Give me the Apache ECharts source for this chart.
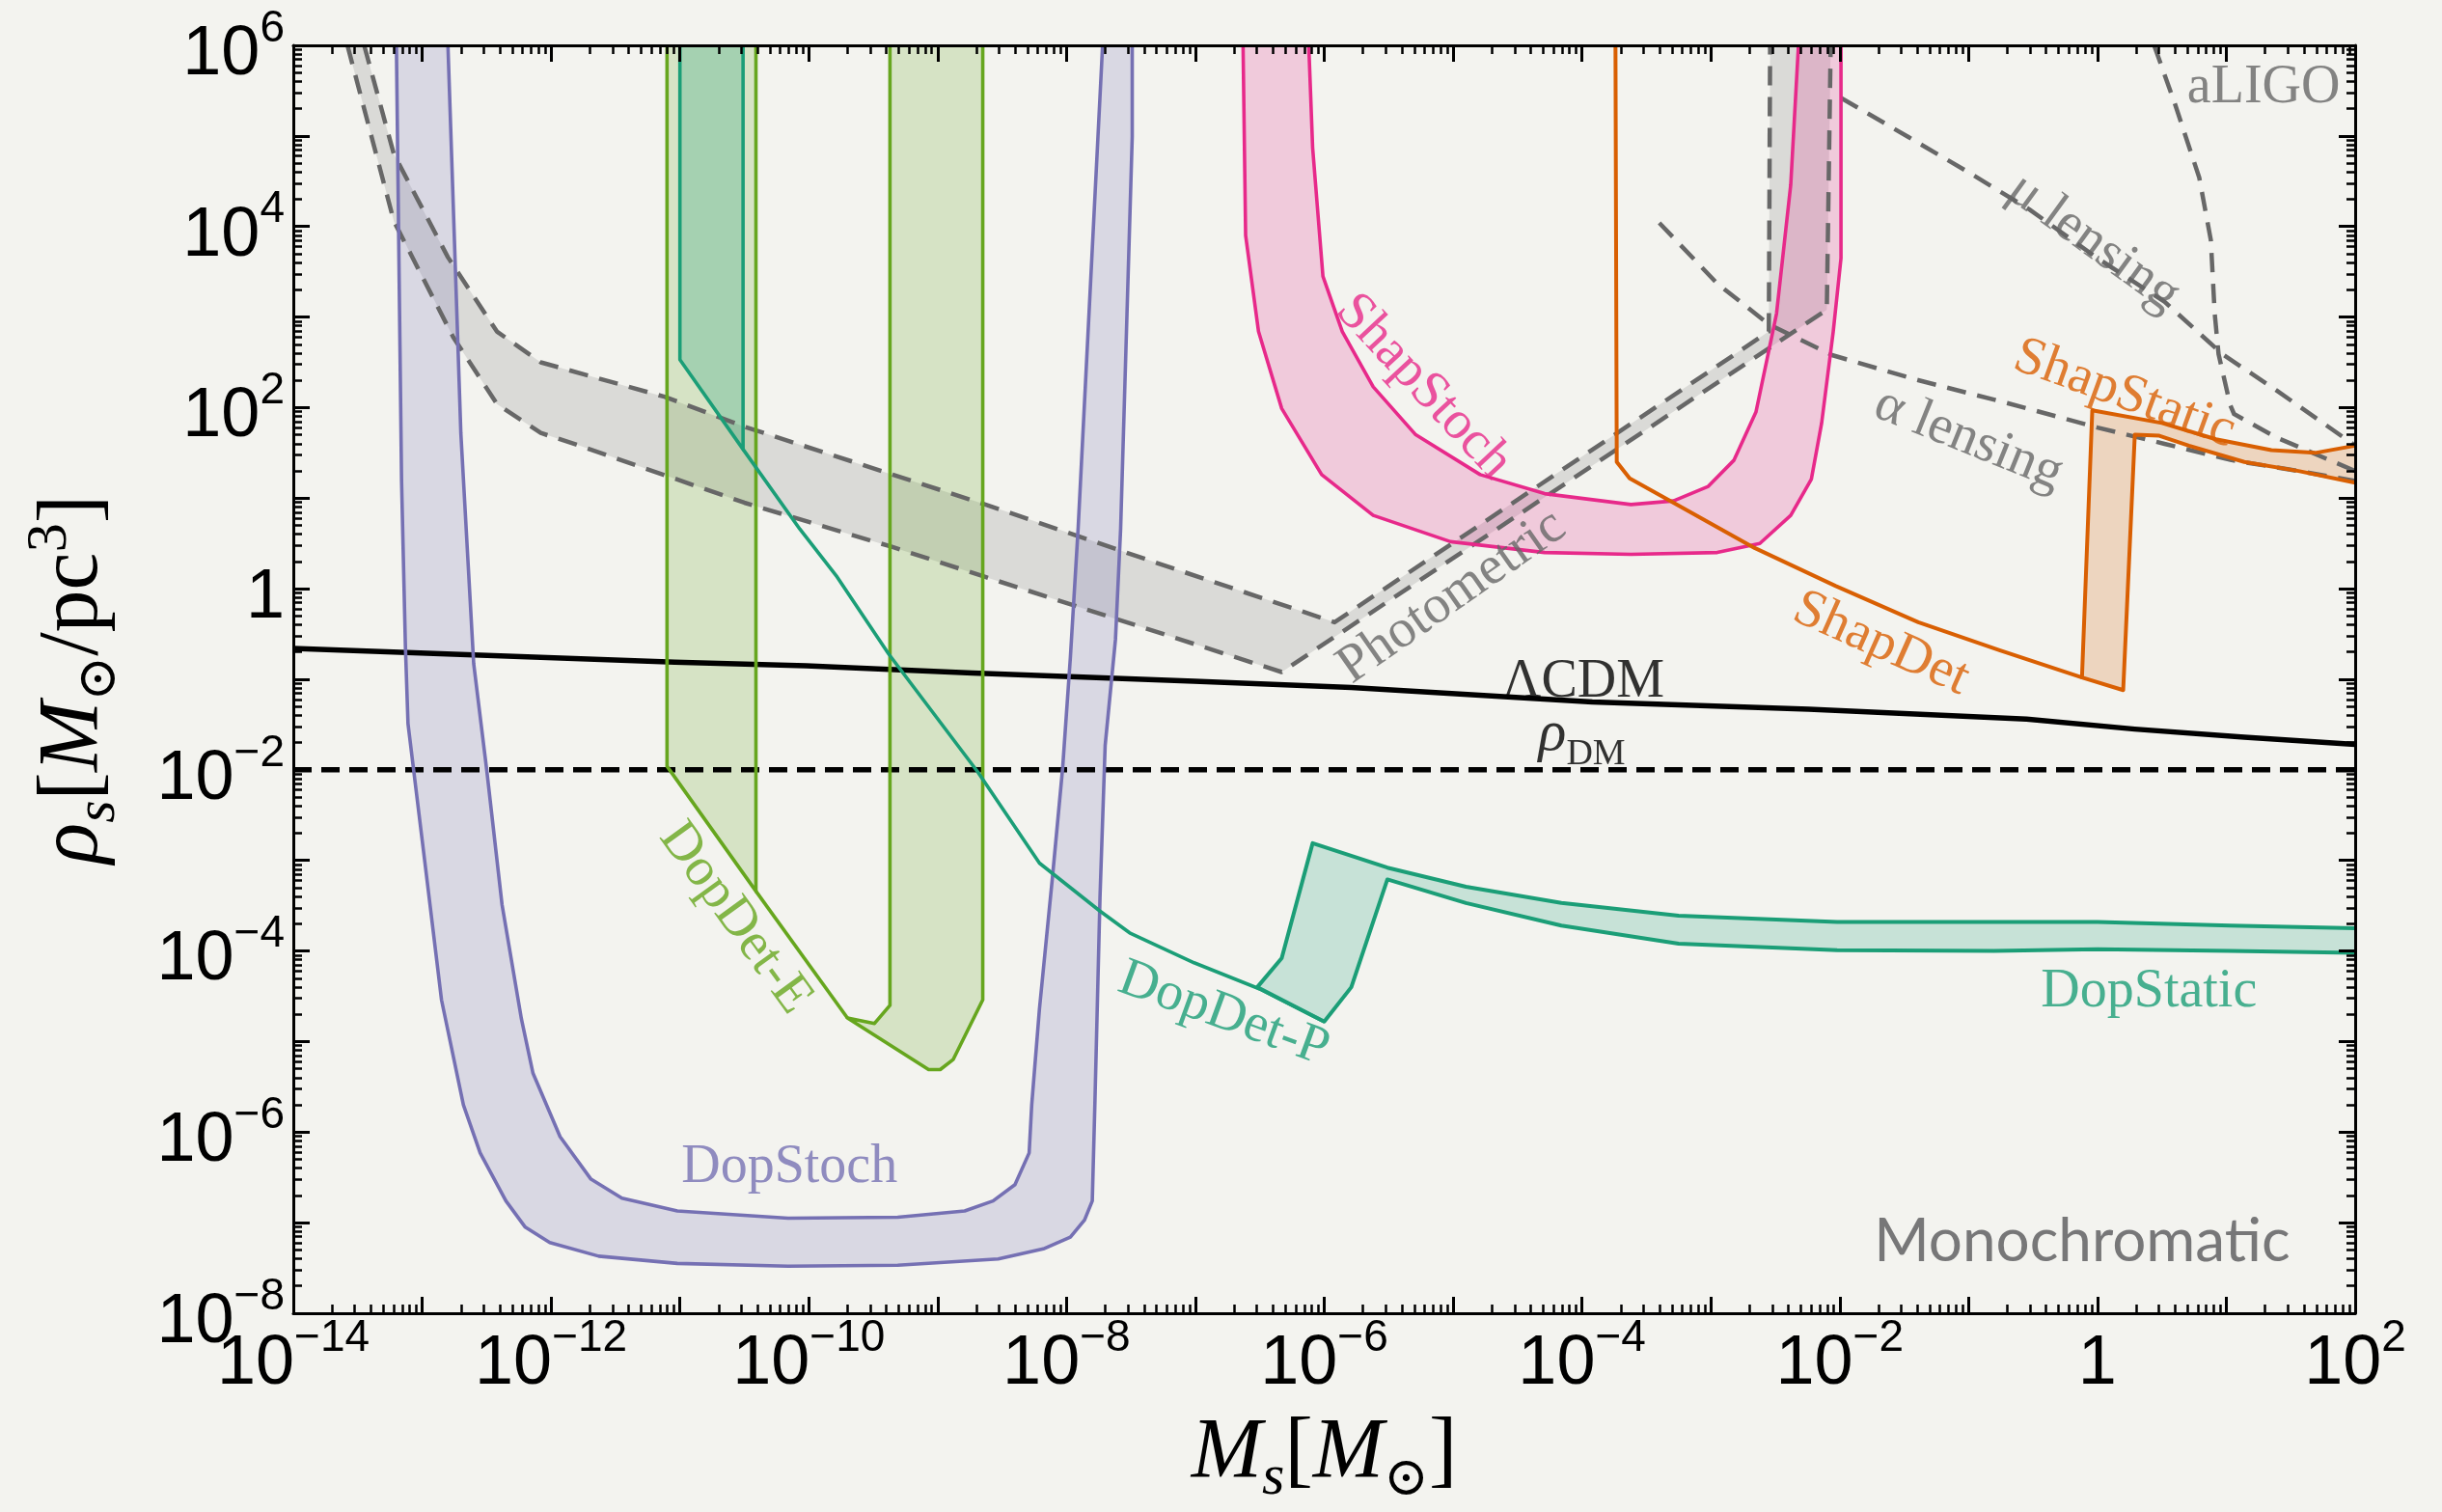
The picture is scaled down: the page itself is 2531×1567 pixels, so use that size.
<!DOCTYPE html>
<html>
<head>
<meta charset="utf-8">
<title>Monochromatic substructure constraints</title>
<script src="https://cdn.jsdelivr.net/npm/echarts@6/dist/echarts.min.js"></script>
<style>
  html, body { margin: 0; padding: 0; background: #f3f3ef; }
  #chart { width: 2531px; height: 1567px; }
</style>
</head>
<body>
<div id="chart"></div>
<script>
// Every curve is a list of [log10(Ms / Msun), log10(rho_s / (Msun/pc^3))] pairs.
const X_MIN = -14, X_MAX = 2, Y_MIN = -8, Y_MAX = 6;
const X_LABEL_EXPONENTS = [-14, -12, -10, -8, -6, -4, -2, 0, 2];
const Y_LABEL_EXPONENTS = [-8, -6, -4, -2, 0, 2, 4, 6];

// Doppler, stochastic (U-shaped band)
const DOP_STOCH_OUTER = [[-13.20, 6], [-13.16, 1.19], [-13.13, -0.64], [-13.11, -1.49], [-12.98, -3.01], [-12.85, -4.54], [-12.68, -5.70], [-12.55, -6.23], [-12.35, -6.76], [-12.20, -7.05], [-12.01, -7.22], [-11.63, -7.37], [-11.02, -7.45], [-10.16, -7.48], [-9.31, -7.47], [-8.53, -7.40], [-8.18, -7.29], [-7.97, -7.16], [-7.86, -6.97], [-7.80, -6.76], [-7.78, -5.70], [-7.74, -3.40], [-7.70, -1.73], [-7.62, -0.56], [-7.58, 0.66], [-7.49, 4.99], [-7.49, 6]];
const DOP_STOCH_INNER = [[-12.80, 6], [-12.70, 1.72], [-12.60, -0.83], [-12.50, -1.99], [-12.38, -3.49], [-12.23, -4.75], [-12.14, -5.35], [-11.93, -6.05], [-11.69, -6.52], [-11.45, -6.73], [-11.02, -6.87], [-10.16, -6.95], [-9.31, -6.94], [-8.79, -6.87], [-8.57, -6.76], [-8.40, -6.58], [-8.29, -6.23], [-8.27, -5.70], [-8.21, -4.64], [-8.11, -3.20], [-8.03, -1.98], [-7.97, -0.76], [-7.91, 0.66], [-7.72, 6]];

// Doppler, deterministic (Earth)
const DOP_DET_E_A = [[-11.10, 6], [-11.10, -1.96], [-10.41, -3.34], [-10.41, 6]];
const DOP_DET_E_B = [[-9.37, 6], [-9.37, -4.60], [-9.49, -4.80], [-9.70, -4.74], [-9.07, -5.31], [-8.98, -5.31], [-8.88, -5.20], [-8.65, -4.54], [-8.65, 6]];
const DOP_DET_E_LINK = [[-10.41, -3.34], [-9.70, -4.74]];

// Doppler, deterministic (pulsar)
const DOP_DET_P_BAND = [[-11.00, 6], [-11.00, 2.53], [-10.51, 1.54], [-10.51, 6]];
const DOP_DET_P_LINE = [[-10.51, 1.54], [-10.07, 0.66], [-9.78, 0.13], [-9.38, -0.72], [-8.69, -2.02], [-8.21, -3.03], [-7.74, -3.56], [-7.51, -3.80], [-7.01, -4.13], [-6.50, -4.42], [-6.00, -4.78]];

// Doppler, static
const DOP_STATIC_UPPER = [[-6.52, -4.40], [-6.33, -4.08], [-6.09, -2.81], [-5.51, -3.08], [-4.90, -3.29], [-4.16, -3.47], [-3.25, -3.61], [-2.02, -3.68], [-0.80, -3.68], [0.00, -3.68], [1.03, -3.72], [2.00, -3.75]];
const DOP_STATIC_LOWER = [[-6.52, -4.40], [-6.00, -4.78], [-5.79, -4.40], [-5.51, -3.21], [-4.90, -3.47], [-4.16, -3.72], [-3.25, -3.92], [-2.02, -3.99], [-0.80, -4.00], [0.00, -3.98], [1.03, -4.00], [2.00, -4.02]];

// Shapiro, stochastic (U-shaped band)
const SHAP_STOCH_OUTER = [[-6.63, 6], [-6.61, 3.90], [-6.51, 2.84], [-6.33, 1.99], [-6.02, 1.26], [-5.62, 0.81], [-5.02, 0.52], [-4.29, 0.40], [-3.62, 0.38], [-2.95, 0.40], [-2.62, 0.50], [-2.38, 0.81], [-2.22, 1.21], [-2.14, 1.83], [-2.05, 2.84], [-1.99, 3.65], [-1.99, 6]];
const SHAP_STOCH_INNER = [[-6.12, 6], [-6.09, 4.87], [-6.01, 3.45], [-5.86, 2.84], [-5.62, 2.23], [-5.29, 1.70], [-4.79, 1.26], [-4.29, 1.05], [-3.62, 0.93], [-3.29, 0.97], [-3.02, 1.13], [-2.82, 1.42], [-2.65, 1.95], [-2.55, 2.63], [-2.49, 3.04], [-2.38, 4.46], [-2.32, 6]];

// Shapiro, deterministic and static
const SHAP_DET = [[-3.74, 6], [-3.73, 1.40], [-3.63, 1.22], [-3.29, 0.95], [-2.66, 0.45], [-2.03, 0.03], [-1.39, -0.37], [-0.76, -0.68], [-0.12, -0.98]];
const SHAP_STATIC_UPPER = [[-0.12, -0.98], [-0.04, 1.97], [0.50, 1.83], [0.92, 1.65], [1.35, 1.53], [1.69, 1.50], [2.00, 1.58]];
const SHAP_STATIC_LOWER = [[0.20, -1.12], [0.29, 1.70], [0.48, 1.69], [0.71, 1.58], [1.14, 1.40], [1.56, 1.30], [2.00, 1.17]];

// Existing bounds (dashed)
const PHOTOMETRIC_UPPER = [[-13.45, 6], [-13.22, 4.80], [-12.80, 3.66], [-12.42, 2.84], [-12.08, 2.50], [-11.12, 2.12], [-10.50, 1.79], [-9.35, 1.26], [-8.63, 0.93], [-7.29, 0.28], [-5.92, -0.37], [-2.55, 2.84], [-2.54, 6]];
const PHOTOMETRIC_LOWER = [[-13.58, 6], [-13.22, 4.06], [-12.76, 2.78], [-12.42, 2.04], [-12.08, 1.72], [-11.78, 1.58], [-10.50, 0.95], [-9.35, 0.46], [-8.63, 0.13], [-6.33, -0.92], [-2.10, 3.08], [-2.07, 6]];
const ALPHA_LENSING = [[-3.40, 4.04], [-2.95, 3.37], [-2.55, 2.92], [-2.06, 2.58], [-1.41, 2.31], [-0.70, 2.05], [0.00, 1.78], [0.52, 1.60], [1.04, 1.42], [1.56, 1.30], [2.00, 1.19]];
const MU_LENSING = [[-1.99, 5.42], [-1.47, 4.99], [-0.99, 4.59], [-0.53, 4.19], [0.00, 3.65], [0.52, 3.17], [0.97, 2.59], [1.39, 2.19], [2.00, 1.58]];
const ALIGO = [[0.44, 6], [0.60, 5.36], [0.79, 4.54], [0.88, 3.85], [0.91, 3.04], [0.94, 2.59], [1.03, 2.03], [1.06, 1.93], [1.39, 1.67], [2.00, 1.30]];

// Reference densities
const LCDM = [[-14, -0.66], [-12.60, -0.73], [-11.04, -0.81], [-10.02, -0.85], [-8.73, -0.93], [-7.01, -1.02], [-5.79, -1.09], [-3.92, -1.25], [-2.24, -1.33], [-0.55, -1.44], [0.29, -1.55], [1.14, -1.64], [2.00, -1.72]];
const RHO_DM = [[-14, -2], [2, -2]];

// Curve annotations: text, anchor [log10 Ms, log10 rho], rotation (deg), colour key
const ANNOTATIONS = [
  ['DopStoch', [-10.15, -6.39], 0, 'purple'],
  ['DopDet-E', [-10.57, -3.64], -54, 'green'],
  ['DopDet-P', [-6.78, -4.70], -20, 'teal'],
  ['DopStatic', [0.40, -4.45], 0, 'teal'],
  ['ShapStoch', [-5.23, 2.23], -47, 'pink'],
  ['ShapDet', [-1.68, -0.61], -24, 'orange'],
  ['ShapStatic', [0.21, 2.15], -20, 'orange'],
  ['α lensing', [-1.00, 1.65], -22, 'gray'],
  ['μ lensing', [-0.03, 3.82], -36, 'gray'],
  ['aLIGO', [1.29, 5.53], 0, 'gray'],
  ['Photometric', [-5.01, -0.09], 35, 'gray'],
  ['ΛCDM', [-3.99, -1.03], 0, 'black']
];
const RHO_DM_LABEL_AT = [-4.0, -1.66];
const PANEL_TITLE = 'Monochromatic';
const PANEL_TITLE_AT = [-0.12, -7.21];

const COLORS = {
  purple: '#7570b3', green: '#66a61e', teal: '#1b9e77', pink: '#e7298a',
  orange: '#d95f02', gray: '#676767', black: '#000000'
};
const FILLS = {
  purple: 'rgba(117,112,179,0.20)', green: 'rgba(102,166,30,0.20)',
  tealDeep: 'rgba(27,158,119,0.26)', teal: 'rgba(27,158,119,0.20)',
  pink: 'rgba(231,41,138,0.20)', orange: 'rgba(217,95,2,0.20)',
  gray: 'rgba(120,120,120,0.20)'
};

const SERIF = "'Liberation Serif', 'DejaVu Serif', serif";
const SANS = "'Liberation Sans', Arial, sans-serif";
const DASH_BOUND = [20, 12];
const DASH_RHO = [19, 10];

function rev(a) { return a.slice().reverse(); }

function fillSeries(points, fill) {
  return {
    type: 'custom', coordinateSystem: 'cartesian2d', silent: true, z: 1,
    data: [[X_MIN, Y_MIN]],
    renderItem: function (params, api) {
      return {
        type: 'polygon',
        shape: { points: points.map(function (p) { return api.coord(p); }) },
        style: { fill: fill, stroke: null }
      };
    }
  };
}

function lineSeries(points, color, width, dash) {
  return {
    type: 'line', data: points, symbol: 'none', showSymbol: false, silent: true, z: 3,
    clip: true,
    lineStyle: { color: color, width: width, type: dash || 'solid', cap: 'butt', join: 'round' }
  };
}

function powerLabel(v) {
  const e = Math.round(v);
  if (e === 0) return '{b|1}';
  return '{b|10}{s|' + (e < 0 ? '\u2212' : '') + Math.abs(e) + '}';
}

const TICK_RICH = {
  b: { fontSize: 72, fontFamily: SANS, color: '#000', lineHeight: 100, verticalAlign: 'middle' },
  s: { fontSize: 46, fontFamily: SANS, color: '#000', lineHeight: 52, verticalAlign: 'top' }
};

function decadeTicks(lo, hi) {
  const majors = [], minors = [];
  for (let d = lo; d <= hi; d++) majors.push(d);
  for (let d = lo; d < hi; d++) for (let k = 2; k <= 9; k++) minors.push(d + Math.log10(k));
  return { majors: majors, minors: minors };
}

function axisGroup(min, max, mainPos, otherPos, labelValues, labelExtra, nameExtra) {
  const t = decadeTicks(min, max);
  const base = { type: 'value', min: min, max: max, z: 10, splitLine: { show: false }, silent: true };
  const line = { show: true, onZero: false, lineStyle: { color: '#000', width: 3 } };
  const noLine = { show: false, onZero: false };
  const major = { show: true, inside: true, length: 17, lineStyle: { color: '#000', width: 3 }, customValues: t.majors };
  const minor = { show: true, inside: true, length: 9, lineStyle: { color: '#000', width: 2.5 }, customValues: t.minors };
  const first = Object.assign({}, base, {
    position: mainPos, axisLine: line, axisTick: major,
    axisLabel: Object.assign({ show: true, customValues: labelValues, formatter: powerLabel, rich: TICK_RICH }, labelExtra)
  }, nameExtra);
  return [
    first,
    Object.assign({}, base, { position: mainPos, axisLine: noLine, axisTick: minor, axisLabel: { show: false } }),
    Object.assign({}, base, { position: otherPos, axisLine: line, axisTick: major, axisLabel: { show: false } }),
    Object.assign({}, base, { position: otherPos, axisLine: noLine, axisTick: minor, axisLabel: { show: false } })
  ];
}

const NAME_RICH = {
  i: { fontSize: 88, fontFamily: SERIF, fontStyle: 'italic', color: '#000', lineHeight: 110, verticalAlign: 'middle' },
  n: { fontSize: 88, fontFamily: SERIF, color: '#000', lineHeight: 110, verticalAlign: 'middle' },
  sub: { fontSize: 60, fontFamily: SERIF, fontStyle: 'italic', color: '#000', lineHeight: 50, verticalAlign: 'bottom' },
  sun: { fontSize: 56, fontFamily: "'DejaVu Serif', serif", color: '#000', lineHeight: 50, verticalAlign: 'bottom' },
  sup: { fontSize: 60, fontFamily: SERIF, color: '#000', lineHeight: 50, verticalAlign: 'top' }
};

const xAxes = axisGroup(X_MIN, X_MAX, 'bottom', 'top', X_LABEL_EXPONENTS,
  { margin: 3 },
  { name: '{i|M}{sub|s}{n|[}{i|M}{sun|\u2299}{n|]}', nameLocation: 'middle', nameGap: 91,
    nameTextStyle: { rich: NAME_RICH } });
const yAxes = axisGroup(Y_MIN, Y_MAX, 'left', 'right', Y_LABEL_EXPONENTS,
  { margin: 9, padding: [20, 0, 0, 0] },
  { name: '{i|\u03c1}{sub|s}{n|[}{i|M}{sun|\u2299}{n|/pc}{sup|3}{n|]}', nameLocation: 'middle', nameGap: 172,
    nameRotate: 90, nameTextStyle: { rich: NAME_RICH } });

const series = [
  // filled regions
  fillSeries(PHOTOMETRIC_UPPER.concat(rev(PHOTOMETRIC_LOWER)), FILLS.gray),
  fillSeries(DOP_STOCH_OUTER.concat(rev(DOP_STOCH_INNER)), FILLS.purple),
  fillSeries(DOP_DET_E_A, FILLS.green),
  fillSeries(DOP_DET_E_B, FILLS.green),
  fillSeries(DOP_DET_P_BAND, FILLS.tealDeep),
  fillSeries(DOP_STATIC_UPPER.concat(rev(DOP_STATIC_LOWER)), FILLS.teal),
  fillSeries(SHAP_STOCH_OUTER.concat(rev(SHAP_STOCH_INNER)), FILLS.pink),
  fillSeries(SHAP_STATIC_UPPER.concat(rev(SHAP_STATIC_LOWER)), FILLS.orange),

  // reference densities
  lineSeries(LCDM, COLORS.black, 5.5),
  lineSeries(RHO_DM, COLORS.black, 5.5, DASH_RHO),

  // existing bounds
  lineSeries(PHOTOMETRIC_UPPER, COLORS.gray, 4.5, DASH_BOUND),
  lineSeries(PHOTOMETRIC_LOWER, COLORS.gray, 4.5, DASH_BOUND),
  lineSeries(ALPHA_LENSING, COLORS.gray, 4.5, DASH_BOUND),
  lineSeries(MU_LENSING, COLORS.gray, 4.5, DASH_BOUND),
  lineSeries(ALIGO, COLORS.gray, 4.5, DASH_BOUND),

  // projected sensitivities
  lineSeries(DOP_STOCH_OUTER, COLORS.purple, 3.6),
  lineSeries(DOP_STOCH_INNER, COLORS.purple, 3.6),
  lineSeries(DOP_DET_E_A, COLORS.green, 3.6),
  lineSeries(DOP_DET_E_B, COLORS.green, 3.6),
  lineSeries(DOP_DET_E_LINK, COLORS.green, 3.6),
  lineSeries(DOP_DET_P_BAND, COLORS.teal, 3.6),
  lineSeries(DOP_DET_P_LINE, COLORS.teal, 3.6),
  lineSeries(rev(DOP_STATIC_UPPER).concat(DOP_STATIC_LOWER.slice(1)), COLORS.teal, 4),
  lineSeries(SHAP_STOCH_OUTER, COLORS.pink, 3.6),
  lineSeries(SHAP_STOCH_INNER, COLORS.pink, 3.6),
  lineSeries(SHAP_DET, COLORS.orange, 4),
  lineSeries(rev(SHAP_STATIC_UPPER).concat(SHAP_STATIC_LOWER), COLORS.orange, 4)
];

// text annotations anchored in data space
const annotationData = ANNOTATIONS.map(function (a) {
  return {
    value: a[1],
    label: {
      show: true, position: 'inside', formatter: a[0], rotate: a[2],
      color: COLORS[a[3]], fontSize: 56, fontFamily: SERIF
    }
  };
});
annotationData.push({
  value: RHO_DM_LABEL_AT,
  label: {
    show: true, position: 'inside', formatter: '{r|\u03c1}{d|DM}',
    rich: {
      r: { fontSize: 60, fontFamily: SERIF, fontStyle: 'italic', color: '#000', lineHeight: 70, verticalAlign: 'top' },
      d: { fontSize: 38, fontFamily: SERIF, color: '#000', lineHeight: 50, verticalAlign: 'bottom' }
    }
  }
});
annotationData.push({
  value: PANEL_TITLE_AT,
  label: {
    show: true, position: 'inside', formatter: PANEL_TITLE,
    color: '#58585a', fontSize: 62, fontFamily: "Lato, 'Open Sans', sans-serif"
  }
});
series.push({
  type: 'scatter', data: annotationData, symbolSize: 1, silent: true, z: 6,
  itemStyle: { color: 'transparent' }
});

const chart = echarts.init(document.getElementById('chart'), null, { renderer: 'canvas' });
chart.setOption({
  animation: false,
  backgroundColor: '#f3f3ef',
  grid: { left: 304, top: 47, right: 90, bottom: 200, containLabel: false },
  xAxis: xAxes,
  yAxis: yAxes,
  series: series
});
</script>
</body>
</html>
